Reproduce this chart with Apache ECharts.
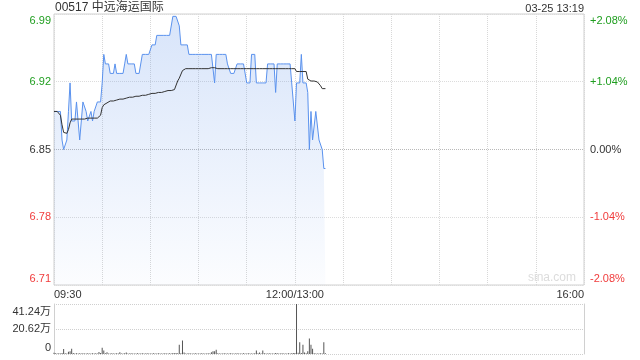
<!DOCTYPE html>
<html>
<head>
<meta charset="utf-8">
<script src="https://cdn.jsdelivr.net/npm/echarts@6/dist/echarts.min.js"></script>
<style>
html,body{margin:0;padding:0;background:#fff;}
#chart{width:640px;height:360px;}
</style>
</head>
<body>
<div id="chart"></div>
<script>
// ---- data ----
var stockTitle = '00517 中远海运国际';
var stampText = '03-25 13:19';
var prevClose = 6.85;
var pctRange = 2.08;
var priceTicks = ['6.71', '6.78', '6.85', '6.92', '6.99'];
var pctTicks = ['-2.08%', '-1.04%', '0.00%', '+1.04%', '+2.08%'];
var volTicks = ['0', '20.62万', '41.24万'];
var volMax = 412400;
var totalMinutes = 330;
var timeLabelAt = [0, 150, 330];
var timeLabels = ['09:30', '12:00/13:00', '16:00'];

var price = [
  6.89,6.89,6.89,6.89,6.89,6.86,6.85,6.85,6.86,6.89,
  6.92,6.88,6.88,6.88,6.90,6.88,6.86,6.86,6.90,6.90,
  6.89,6.88,6.88,6.89,6.88,6.89,6.89,6.90,6.90,6.90,
  6.92,6.95,6.94,6.94,6.94,6.93,6.93,6.93,6.94,6.93,
  6.93,6.93,6.93,6.93,6.94,6.95,6.94,6.94,6.94,6.94,
  6.94,6.93,6.93,6.93,6.93,6.95,6.95,6.95,6.95,6.95,
  6.95,6.96,6.96,6.96,6.97,6.97,6.97,6.97,6.97,6.97,
  6.97,6.97,6.97,6.97,6.99,6.99,6.99,6.99,6.98,6.96,
  6.96,6.96,6.96,6.96,6.95,6.95,6.95,6.95,6.95,6.95,
  6.95,6.95,6.95,6.95,6.95,6.95,6.95,6.95,6.95,6.95,
  6.92,6.95,6.95,6.95,6.95,6.95,6.95,6.95,6.94,6.94,
  6.93,6.93,6.93,6.93,6.94,6.94,6.94,6.94,6.94,6.94,
  6.92,6.92,6.92,6.95,6.95,6.95,6.92,6.92,6.92,6.92,
  6.92,6.92,6.92,6.94,6.94,6.94,6.94,6.94,6.91,6.94,
  6.94,6.94,6.94,6.94,6.94,6.94,6.94,6.94,6.92,6.92,
  6.88,6.92,6.92,6.92,6.95,6.92,6.92,6.92,6.91,6.85,
  6.89,6.86,6.86,6.89,6.89,6.86,6.86,6.85,6.83,6.83
];

var avgPrice = [
  6.890,6.890,6.890,6.890,6.886,6.876,6.868,6.867,6.867,6.871,
  6.878,6.882,6.882,6.882,6.882,6.882,6.882,6.882,6.882,6.882,
  6.882,6.883,6.883,6.883,6.883,6.883,6.883,6.883,6.884,6.886,
  6.894,6.897,6.899,6.899,6.900,6.901,6.901,6.901,6.902,6.902,
  6.902,6.903,6.903,6.903,6.904,6.904,6.904,6.905,6.905,6.905,
  6.906,6.906,6.906,6.906,6.907,6.907,6.907,6.907,6.908,6.908,
  6.908,6.909,6.909,6.909,6.909,6.910,6.910,6.910,6.911,6.911,
  6.911,6.912,6.912,6.912,6.913,6.913,6.914,6.922,6.925,6.926,
  6.933,6.935,6.935,6.935,6.935,6.935,6.935,6.935,6.935,6.935,
  6.935,6.935,6.935,6.935,6.935,6.935,6.935,6.935,6.936,6.936,
  6.936,6.935,6.935,6.935,6.935,6.935,6.935,6.935,6.935,6.935,
  6.935,6.935,6.935,6.935,6.935,6.935,6.935,6.935,6.935,6.935,
  6.935,6.935,6.935,6.935,6.935,6.935,6.935,6.935,6.935,6.935,
  6.935,6.935,6.935,6.935,6.935,6.935,6.935,6.935,6.935,6.935,
  6.935,6.935,6.935,6.935,6.935,6.935,6.935,6.935,6.935,6.935,
  6.935,6.932,6.932,6.932,6.932,6.932,6.932,6.932,6.924,6.923,
  6.922,6.922,6.922,6.922,6.921,6.920,6.917,6.914,6.914,6.914
];

var volume = [
  11000,6000,5000,7000,4000,8000,41000,6000,5000,19000,
  22000,44000,9000,5000,6000,4000,7000,5000,6000,4000,
  5000,6000,4000,5000,7000,4000,6000,5000,17000,9000,
  52000,28000,6000,15000,5000,4000,6000,5000,4000,7000,
  5000,15000,4000,5000,6000,12000,4000,5000,6000,4000,
  5000,4000,6000,5000,4000,7000,5000,4000,6000,5000,
  4000,5000,6000,4000,5000,7000,4000,5000,4000,6000,
  5000,4000,6000,5000,8000,6000,9000,7000,77000,6000,
  111000,12000,5000,4000,6000,5000,4000,5000,6000,4000,
  5000,4000,6000,5000,4000,5000,6000,4000,15000,22000,
  22000,36000,6000,5000,4000,5000,6000,4000,5000,4000,
  6000,5000,4000,5000,6000,4000,5000,4000,6000,5000,
  4000,6000,5000,4000,5000,7000,28000,6000,12000,5000,
  28000,6000,5000,4000,6000,5000,4000,5000,8000,6000,
  5000,4000,6000,5000,4000,5000,6000,4000,7000,9000,
  8000,412400,10000,97000,9000,77000,12000,6000,22000,127000,
  77000,44000,6000,5000,4000,5000,6000,4000,97000,6000
];

// ---- chart ----
var FONT = "'Liberation Sans', Arial, 'Noto Sans CJK SC', sans-serif";
var pMin = prevClose * (1 - pctRange / 100);
var pInt = prevClose * pctRange / 100 / 2;
var pMax = pMin + 4 * pInt;

function pair(arr) { return arr.map(function (v, i) { return [i, v]; }); }
function tickIdx(v, min, step) { return Math.round((v - min) / step); }
function tickColor(v) {
  if (v > prevClose + 1e-4) return '#1f9e1f';
  if (v < prevClose - 1e-4) return '#f03c3c';
  return '#333';
}
// shift first/last label inward with rich padding
function edgeLabel(text, k, last, shiftTop, shiftBottom) {
  if (text === undefined) return '';
  if (k === last) return '{t|' + text + '}';
  if (k === 0) return '{b|' + text + '}';
  return text;
}
function richFor(padTop, padBottom) {
  return {
    t: { padding: [padTop, 0, 0, 0] },
    b: { padding: [0, 0, padBottom, 0] }
  };
}

var chart = echarts.init(document.getElementById('chart'), null, { renderer: 'canvas' });
chart.setOption({
  animation: false,
  backgroundColor: '#fff',
  textStyle: { fontFamily: FONT },
  title: [
    { text: stockTitle, left: 55, top: 2, padding: 0,
      textStyle: { fontSize: 12, fontWeight: 'normal', color: '#333', fontFamily: FONT } },
    { text: stampText, right: 56, top: 3, padding: 0,
      textStyle: { fontSize: 11, fontWeight: 'normal', color: '#333', fontFamily: FONT } }
  ],
  graphic: [
    { type: 'text', right: 64, top: 272, z: 1,
      style: { text: 'sina.com', fill: '#dcdcdc', font: '12px ' + FONT } }
  ],
  grid: [
    { left: 54, right: 56, top: 14, height: 271, show: true, borderColor: '#d0d0d0', borderWidth: 1 },
    { left: 54, right: 56, top: 304, height: 50, show: false }
  ],
  xAxis: [
    { type: 'value', gridIndex: 0, min: 0, max: totalMinutes, interval: 30,
      axisLine: { show: false }, axisTick: { show: false },
      splitLine: { show: true, lineStyle: { color: '#d8d8d8', type: 'dotted' } },
      axisLabel: {
        margin: 4, fontSize: 11, color: '#333', fontFamily: FONT,
        showMinLabel: true, showMaxLabel: true,
        alignMinLabel: 'left', alignMaxLabel: 'right',
        formatter: function (v) {
          var k = timeLabelAt.indexOf(Math.round(v));
          return k >= 0 ? timeLabels[k] : '';
        }
      }
    },
    { type: 'value', gridIndex: 1, min: 0, max: totalMinutes, interval: 30,
      axisLine: { show: false }, axisTick: { show: false },
      splitLine: { show: false }, axisLabel: { show: false } }
  ],
  yAxis: [
    { type: 'value', gridIndex: 0, position: 'left', min: pMin, max: pMax, interval: pInt,
      axisLine: { show: false }, axisTick: { show: false },
      splitLine: { show: true, lineStyle: { color: ['#dcdcdc', '#dcdcdc', '#b8b8b8', '#dcdcdc', '#dcdcdc'], type: 'dotted' } },
      axisLabel: {
        margin: 3, fontSize: 11, fontFamily: FONT,
        color: function (v) { return tickColor(v); },
        rich: richFor(13, 13),
        formatter: function (v) {
          var k = tickIdx(v, pMin, pInt);
          return edgeLabel(priceTicks[k], k, 4);
        }
      }
    },
    { type: 'value', gridIndex: 0, position: 'right', min: pMin, max: pMax, interval: pInt,
      axisLine: { show: false }, axisTick: { show: false }, splitLine: { show: false },
      axisLabel: {
        margin: 6, fontSize: 11, fontFamily: FONT,
        color: function (v) { return tickColor(v); },
        rich: richFor(13, 13),
        formatter: function (v) {
          var k = tickIdx(v, pMin, pInt);
          return edgeLabel(pctTicks[k], k, 4);
        }
      }
    },
    { type: 'value', gridIndex: 1, position: 'left', min: 0, max: volMax, interval: volMax / 2,
      axisLine: { show: true, lineStyle: { color: '#d0d0d0' } }, axisTick: { show: false },
      splitLine: { show: true, lineStyle: { color: '#cfcfcf', type: 'dotted' } },
      axisLabel: {
        margin: 3, fontSize: 11, color: '#333', fontFamily: FONT,
        rich: richFor(15, 12),
        formatter: function (v) {
          var k = tickIdx(v, 0, volMax / 2);
          return edgeLabel(volTicks[k], k, 2);
        }
      }
    },
    { type: 'value', gridIndex: 1, position: 'right', min: 0, max: volMax, interval: volMax / 2,
      axisLine: { show: true, lineStyle: { color: '#d0d0d0' } }, axisTick: { show: false },
      splitLine: { show: false }, axisLabel: { show: false } }
  ],
  series: [
    { type: 'line', name: 'price', xAxisIndex: 0, yAxisIndex: 0, data: pair(price),
      showSymbol: false, symbol: 'none',
      lineStyle: { color: '#5a92ee', width: 1 },
      itemStyle: { color: '#5a92ee' },
      areaStyle: {
        color: new echarts.graphic.LinearGradient(0, 0, 0, 1, [
          { offset: 0, color: 'rgba(100,150,235,0.36)' },
          { offset: 1, color: 'rgba(100,150,235,0.03)' }
        ])
      },
      z: 3
    },
    { type: 'line', name: 'avg', xAxisIndex: 0, yAxisIndex: 0, data: pair(avgPrice),
      showSymbol: false, symbol: 'none',
      lineStyle: { color: '#333', width: 1 }, itemStyle: { color: '#333' }, z: 4
    },
    { type: 'bar', name: 'vol', xAxisIndex: 1, yAxisIndex: 2, data: pair(volume),
      barWidth: 1, itemStyle: { color: '#555' }, z: 3
    }
  ]
});
</script>
</body>
</html>
